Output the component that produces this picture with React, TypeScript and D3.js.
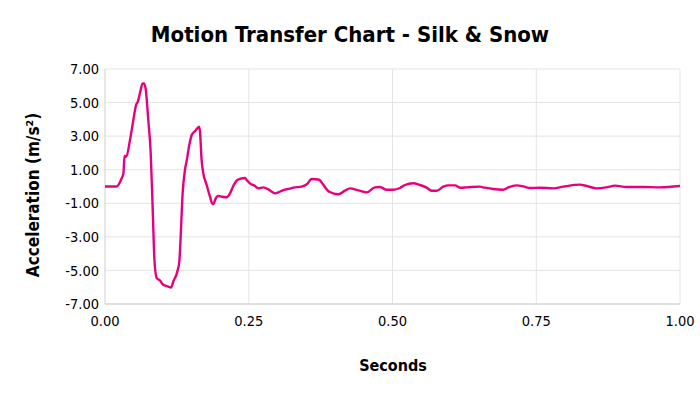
import { useMemo } from "react";
import * as d3 from "d3";

// time in seconds, acceleration in m/s²
const seconds = [
  0, 0.02, 0.029, 0.032, 0.034, 0.037, 0.0435, 0.0493, 0.054, 0.057, 0.062,
  0.0655, 0.068, 0.071, 0.0753, 0.0795, 0.083, 0.086, 0.0899, 0.0957, 0.1014,
  0.11, 0.1148, 0.1188, 0.1258, 0.1293, 0.1316, 0.135, 0.139, 0.1423, 0.1466,
  0.1508, 0.1565, 0.1606, 0.1635, 0.1652, 0.168, 0.171, 0.1768, 0.1826, 0.187,
  0.189, 0.1913, 0.197, 0.203, 0.2116, 0.2174, 0.223, 0.229, 0.2348, 0.2435,
  0.2464, 0.252, 0.261, 0.2667, 0.2754, 0.284, 0.29, 0.296, 0.3015, 0.31,
  0.3217, 0.3275, 0.342, 0.351, 0.3595, 0.3727, 0.3786, 0.39, 0.4058, 0.4174,
  0.426, 0.4406, 0.455, 0.4696, 0.478, 0.4899, 0.5014, 0.513, 0.5217, 0.536,
  0.5478, 0.5594, 0.568, 0.5768, 0.5884, 0.597, 0.6087, 0.6174, 0.629, 0.652,
  0.658, 0.675, 0.6927, 0.7014, 0.716, 0.7275, 0.739, 0.7565, 0.7797, 0.797,
  0.826, 0.8377, 0.855, 0.872, 0.887, 0.907, 0.936, 0.965, 1.0,
];
const acceleration = [
  0, 0, 0.49, 0.78, 1.83, 1.77, 2.77, 3.96, 4.85, 5.05, 5.74,
  6.14, 6.14, 5.74, 3.96, 1.98, -1.4, -4.38, -5.46, -5.6, -5.86,
  -5.96, -6.02, -5.66, -5.07, -4.47, -2.99, -0.41, 0.98, 1.58, 2.47,
  3.07, 3.3, 3.46, 3.56, 3.26, 1.58, 0.78, 0.09, -0.61, -1.04,
  -1.04, -0.8, -0.57, -0.61, -0.64, -0.41, 0.03, 0.35, 0.45, 0.51,
  0.39, 0.19, 0.03, -0.11, -0.05, -0.17, -0.31, -0.41, -0.35, -0.21,
  -0.13, -0.07, -0.01, 0.13, 0.45, 0.4, 0.15, -0.31, -0.46, -0.25,
  -0.11, -0.23, -0.35, -0.05, -0.03, -0.19, -0.19, -0.09, 0.09, 0.19,
  0.09, -0.07, -0.25, -0.25, -0.01, 0.07, 0.07, -0.07, -0.05, -0.01,
  -0.05, -0.15, -0.19, -0.05, 0.07, 0.01, -0.09, -0.07, -0.11, -0.01,
  0.11, 0.03, -0.11, -0.05, 0.05, -0.03, -0.03, -0.05, 0.03,
];
const yTicks = [7, 5, 3, 1, -1, -3, -5, -7];
const xTicks = [0, 0.25, 0.5, 0.75, 1];

const title = "Motion Transfer Chart - Silk & Snow";
const xTitle = "Seconds";
const yTitle = "Acceleration (m/s²)";

const W = 700;
const H = 394;
const plot = { left: 105, right: 680, top: 69, bottom: 304 };
const font = "Tahoma, 'DejaVu Sans Condensed', 'DejaVu Sans', sans-serif";

export default function App() {
  const x = d3.scaleLinear().domain([0, 1]).range([plot.left, plot.right]);
  const y = d3.scaleLinear().domain([-7, 7]).range([plot.bottom, plot.top]);

  const path = useMemo(() => {
    const line = d3
      .line<number>()
      .x((_, i) => x(seconds[i]))
      .y((d) => y(d))
      .curve(d3.curveMonotoneX);
    return line(acceleration) ?? "";
  }, []);

  return (
    <svg
      width={W}
      height={H}
      style={{ position: "absolute", left: 0, top: 0, background: "#fff" }}
      fontFamily={font}
    >
      <rect width={W} height={H} fill="#fff" />
      {/* grid */}
      {yTicks.map((t) => (
        <line
          key={"gy" + t}
          x1={plot.left}
          x2={plot.right}
          y1={y(t)}
          y2={y(t)}
          stroke="#e4e4e4"
          strokeWidth={1}
        />
      ))}
      {xTicks.slice(1).map((t) => (
        <line
          key={"gx" + t}
          x1={x(t)}
          x2={x(t)}
          y1={plot.top}
          y2={plot.bottom}
          stroke="#e4e4e4"
          strokeWidth={1}
        />
      ))}
      {/* axes */}
      <line x1={plot.left} x2={plot.left} y1={plot.top} y2={plot.bottom} stroke="#d0d0d0" />
      <line x1={plot.left} x2={plot.right} y1={plot.bottom} y2={plot.bottom} stroke="#d0d0d0" />

      {yTicks.map((t) => (
        <text
          key={"ly" + t}
          x={plot.left - 6}
          y={y(t)}
          dy="0.35em"
          textAnchor="end"
          fontSize={14.5}
          fill="#000"
        >
          {t.toFixed(2)}
        </text>
      ))}
      {xTicks.map((t) => (
        <text
          key={"lx" + t}
          x={x(t)}
          y={326}
          textAnchor="middle"
          fontSize={14.5}
          fill="#000"
        >
          {t.toFixed(2)}
        </text>
      ))}

      <path d={path} fill="none" stroke="#e6007e" strokeWidth={2.4} strokeLinejoin="round" />

      <text x={350} y={42} textAnchor="middle" fontSize={22} fontWeight="bold" fill="#000">
        {title}
      </text>
      <text x={393} y={371} textAnchor="middle" fontSize={16} fontWeight="bold" fill="#000">
        {xTitle}
      </text>
      <text
        transform="translate(39,195) rotate(-90)"
        textAnchor="middle"
        fontSize={17}
        fontWeight="bold"
        fill="#000"
      >
        {yTitle}
      </text>
    </svg>
  );
}
